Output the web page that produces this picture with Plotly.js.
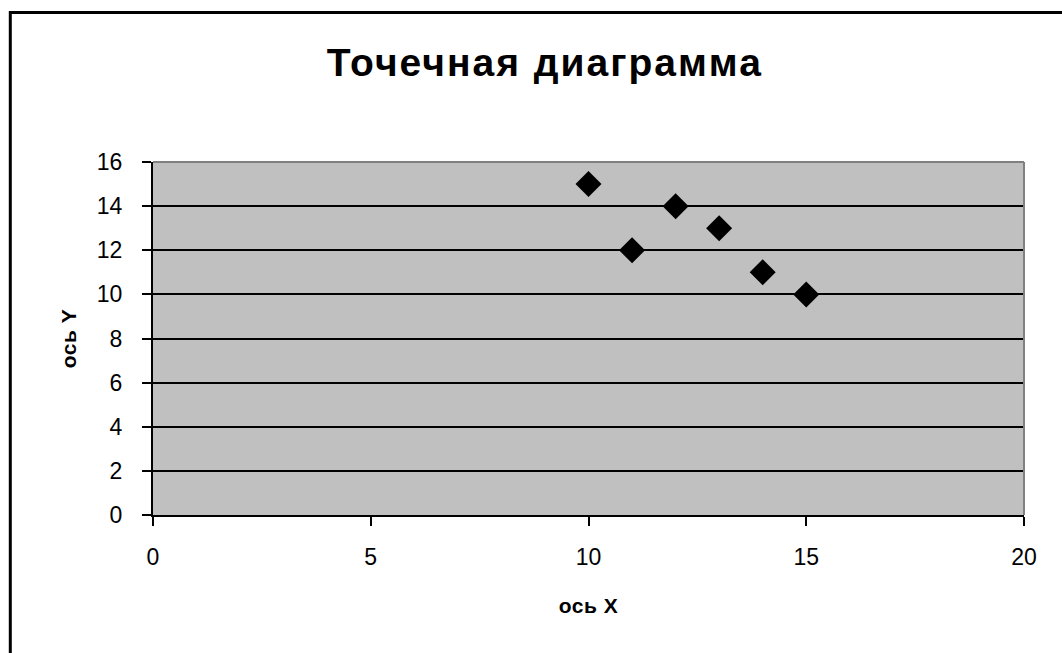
<!DOCTYPE html>
<html>
<head>
<meta charset="utf-8">
<script src="https://cdn.plot.ly/plotly-3.0.1.min.js"></script>
<style>
html,body{margin:0;padding:0;background:#fff;}
#chart{width:1062px;height:653px;}
.gtitle{letter-spacing:2px;}
.xtitle,.ytitle{letter-spacing:0.5px;}
</style>
</head>
<body>
<div id="chart"></div>
<script>
const xValues = [10, 11, 12, 13, 14, 15];
const yValues = [15, 12, 14, 13, 11, 10];
const xTicks = [0, 5, 10, 15, 20];
const yTicks = [0, 2, 4, 6, 8, 10, 12, 14, 16];

const L = 153, R = 38, T = 162, B = 138;
const W = 1062 - L - R, H = 653 - T - B;
const px = v => (v - L) / W;
const py = v => (653 - B - v) / H;

const trace = {
  type: 'scatter', mode: 'markers', x: xValues, y: yValues,
  marker: {symbol: 'diamond', size: 20, color: '#000000', line: {width: 0}},
  showlegend: false, hoverinfo: 'x+y'
};

const font = {family: 'Liberation Sans, Arial, sans-serif', color: '#000'};

const layout = {
  width: 1062, height: 653,
  margin: {l: L, r: R, t: T, b: B, pad: 0},
  paper_bgcolor: '#ffffff', plot_bgcolor: '#c0c0c0',
  font: Object.assign({size: 23}, font),
  title: {text: 'Точечная диаграмма', xref: 'container', yref: 'container', x: 0.513, xanchor: 'center', y: 0.904, yanchor: 'middle',
          font: Object.assign({}, font, {size: 39, weight: 'bold'})},
  xaxis: {range: [0, 20], tickvals: xTicks, ticktext: xTicks.map(String),
          showgrid: false, zeroline: false, showline: true, linecolor: '#000', linewidth: 2,
          ticks: 'outside', ticklen: 9, tickwidth: 2, tickcolor: '#000', ticklabelstandoff: 11,
          tickfont: Object.assign({}, font, {size: 23}),
          title: {text: 'ось X', standoff: 30, font: Object.assign({}, font, {size: 21, weight: 'bold'})}},
  yaxis: {range: [0, 16], tickvals: yTicks, ticktext: yTicks.map(String),
          showgrid: true, gridcolor: '#000', gridwidth: 2, zeroline: false,
          showline: true, linecolor: '#000', linewidth: 2,
          ticks: 'outside', ticklen: 9, tickwidth: 2, tickcolor: '#000', ticklabelstandoff: 15,
          tickfont: Object.assign({}, font, {size: 23}),
          title: {text: 'ось Y', standoff: 14, font: Object.assign({}, font, {size: 21, weight: 'bold'})}},
  shapes: [
    {type: 'line', xref: 'paper', yref: 'paper', x0: 0, x1: 1, y0: 1, y1: 1, line: {color: '#808080', width: 2}, layer: 'above'},
    {type: 'line', xref: 'paper', yref: 'paper', x0: 1, x1: 1, y0: 0, y1: 1, line: {color: '#808080', width: 2}, layer: 'above'},
    {type: 'rect', xref: 'paper', yref: 'paper', x0: px(10.3), x1: px(1090), y0: py(12.5), y1: py(690),
     line: {color: '#000', width: 3}, fillcolor: 'rgba(0,0,0,0)', layer: 'above'}
  ]
};

Plotly.newPlot('chart', [trace], layout, {displayModeBar: false, staticPlot: true});
</script>
</body>
</html>
